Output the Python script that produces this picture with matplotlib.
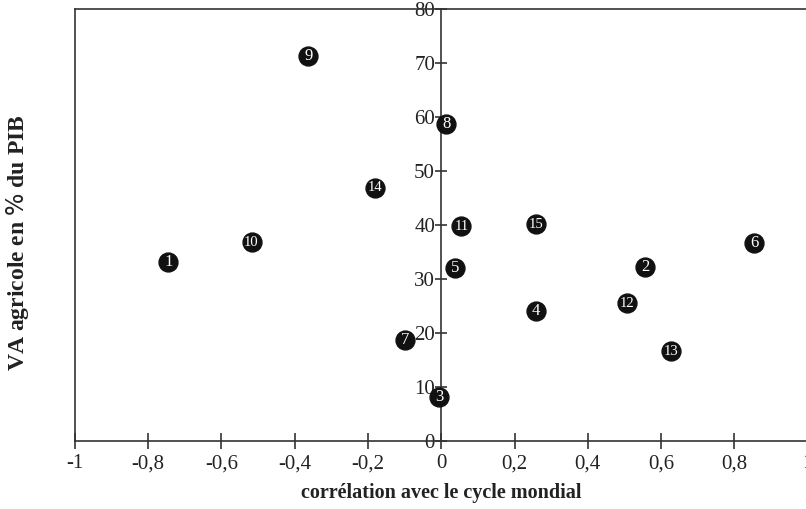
import matplotlib
matplotlib.use("Agg")
import matplotlib.pyplot as plt

plt.rcParams['font.family'] = ['Liberation Serif', 'DejaVu Serif']

# pays numérotés : corrélation avec le cycle mondial / VA agricole en % du PIB
numeros = [1, 2, 3, 4, 5, 6, 7, 8, 9, 10, 11, 12, 13, 14, 15]
correlation = [-0.745, 0.557, -0.005, 0.259, 0.038, 0.854, -0.098, 0.014,
               -0.363, -0.518, 0.055, 0.507, 0.628, -0.18, 0.259]
va_agricole = [33.1, 32.2, 8.1, 24.0, 32.0, 36.6, 18.7, 58.6,
               71.2, 36.8, 39.7, 25.5, 16.6, 46.8, 40.1]

x_ticks = [-1, -0.8, -0.6, -0.4, -0.2, 0, 0.2, 0.4, 0.6, 0.8, 1]
x_labels = ["-1", "-0,8", "-0,6", "-0,4", "-0,2", "0", "0,2", "0,4", "0,6", "0,8", "1"]
y_ticks = [0, 10, 20, 30, 40, 50, 60, 70, 80]

line_col = '#333333'
text_col = '#222222'

fig = plt.figure(figsize=(8.06, 5.09), dpi=100)
ax = fig.add_axes([0.093, 0.1336, 0.909, 0.8497])
ax.set_xlim(-1, 1)
ax.set_ylim(0, 80)

# axe vertical au milieu, cadre à gauche
ax.spines['left'].set_position(('data', 0))
ax.spines['right'].set_position(('data', -1))
for s in ax.spines.values():
    s.set_color(line_col)
    s.set_linewidth(1.2)
ax.yaxis.set_ticks_position('left')
ax.xaxis.set_ticks_position('bottom')

ax.set_xticks(x_ticks)
ax.set_xticklabels(x_labels)
ax.set_yticks(y_ticks)
ax.tick_params(axis='x', direction='inout', length=11, width=1.2, color=line_col,
               labelsize=15, labelcolor=text_col, pad=4)
ax.tick_params(axis='y', direction='inout', length=9, width=1.2, color=line_col,
               labelsize=15, labelcolor=text_col, pad=0)

ax.scatter(correlation, va_agricole, s=185, color='#111111', zorder=3)
for n, xv, yv in zip(numeros, correlation, va_agricole):
    ax.text(xv, yv, str(n), color='white', ha='center', va='center',
            fontsize=12 if n < 10 else 10.5, zorder=4)

ax.set_xlabel("corrélation avec le cycle mondial", fontsize=14.5, fontweight='bold',
              color=text_col, labelpad=7)
fig.text(0.022, 0.523, "VA agricole en $\\mathit{\\%}$ du PIB", rotation=90,
         ha='center', va='center', fontsize=17, fontweight='bold', color=text_col)

fig.savefig("out.png", dpi=100)
